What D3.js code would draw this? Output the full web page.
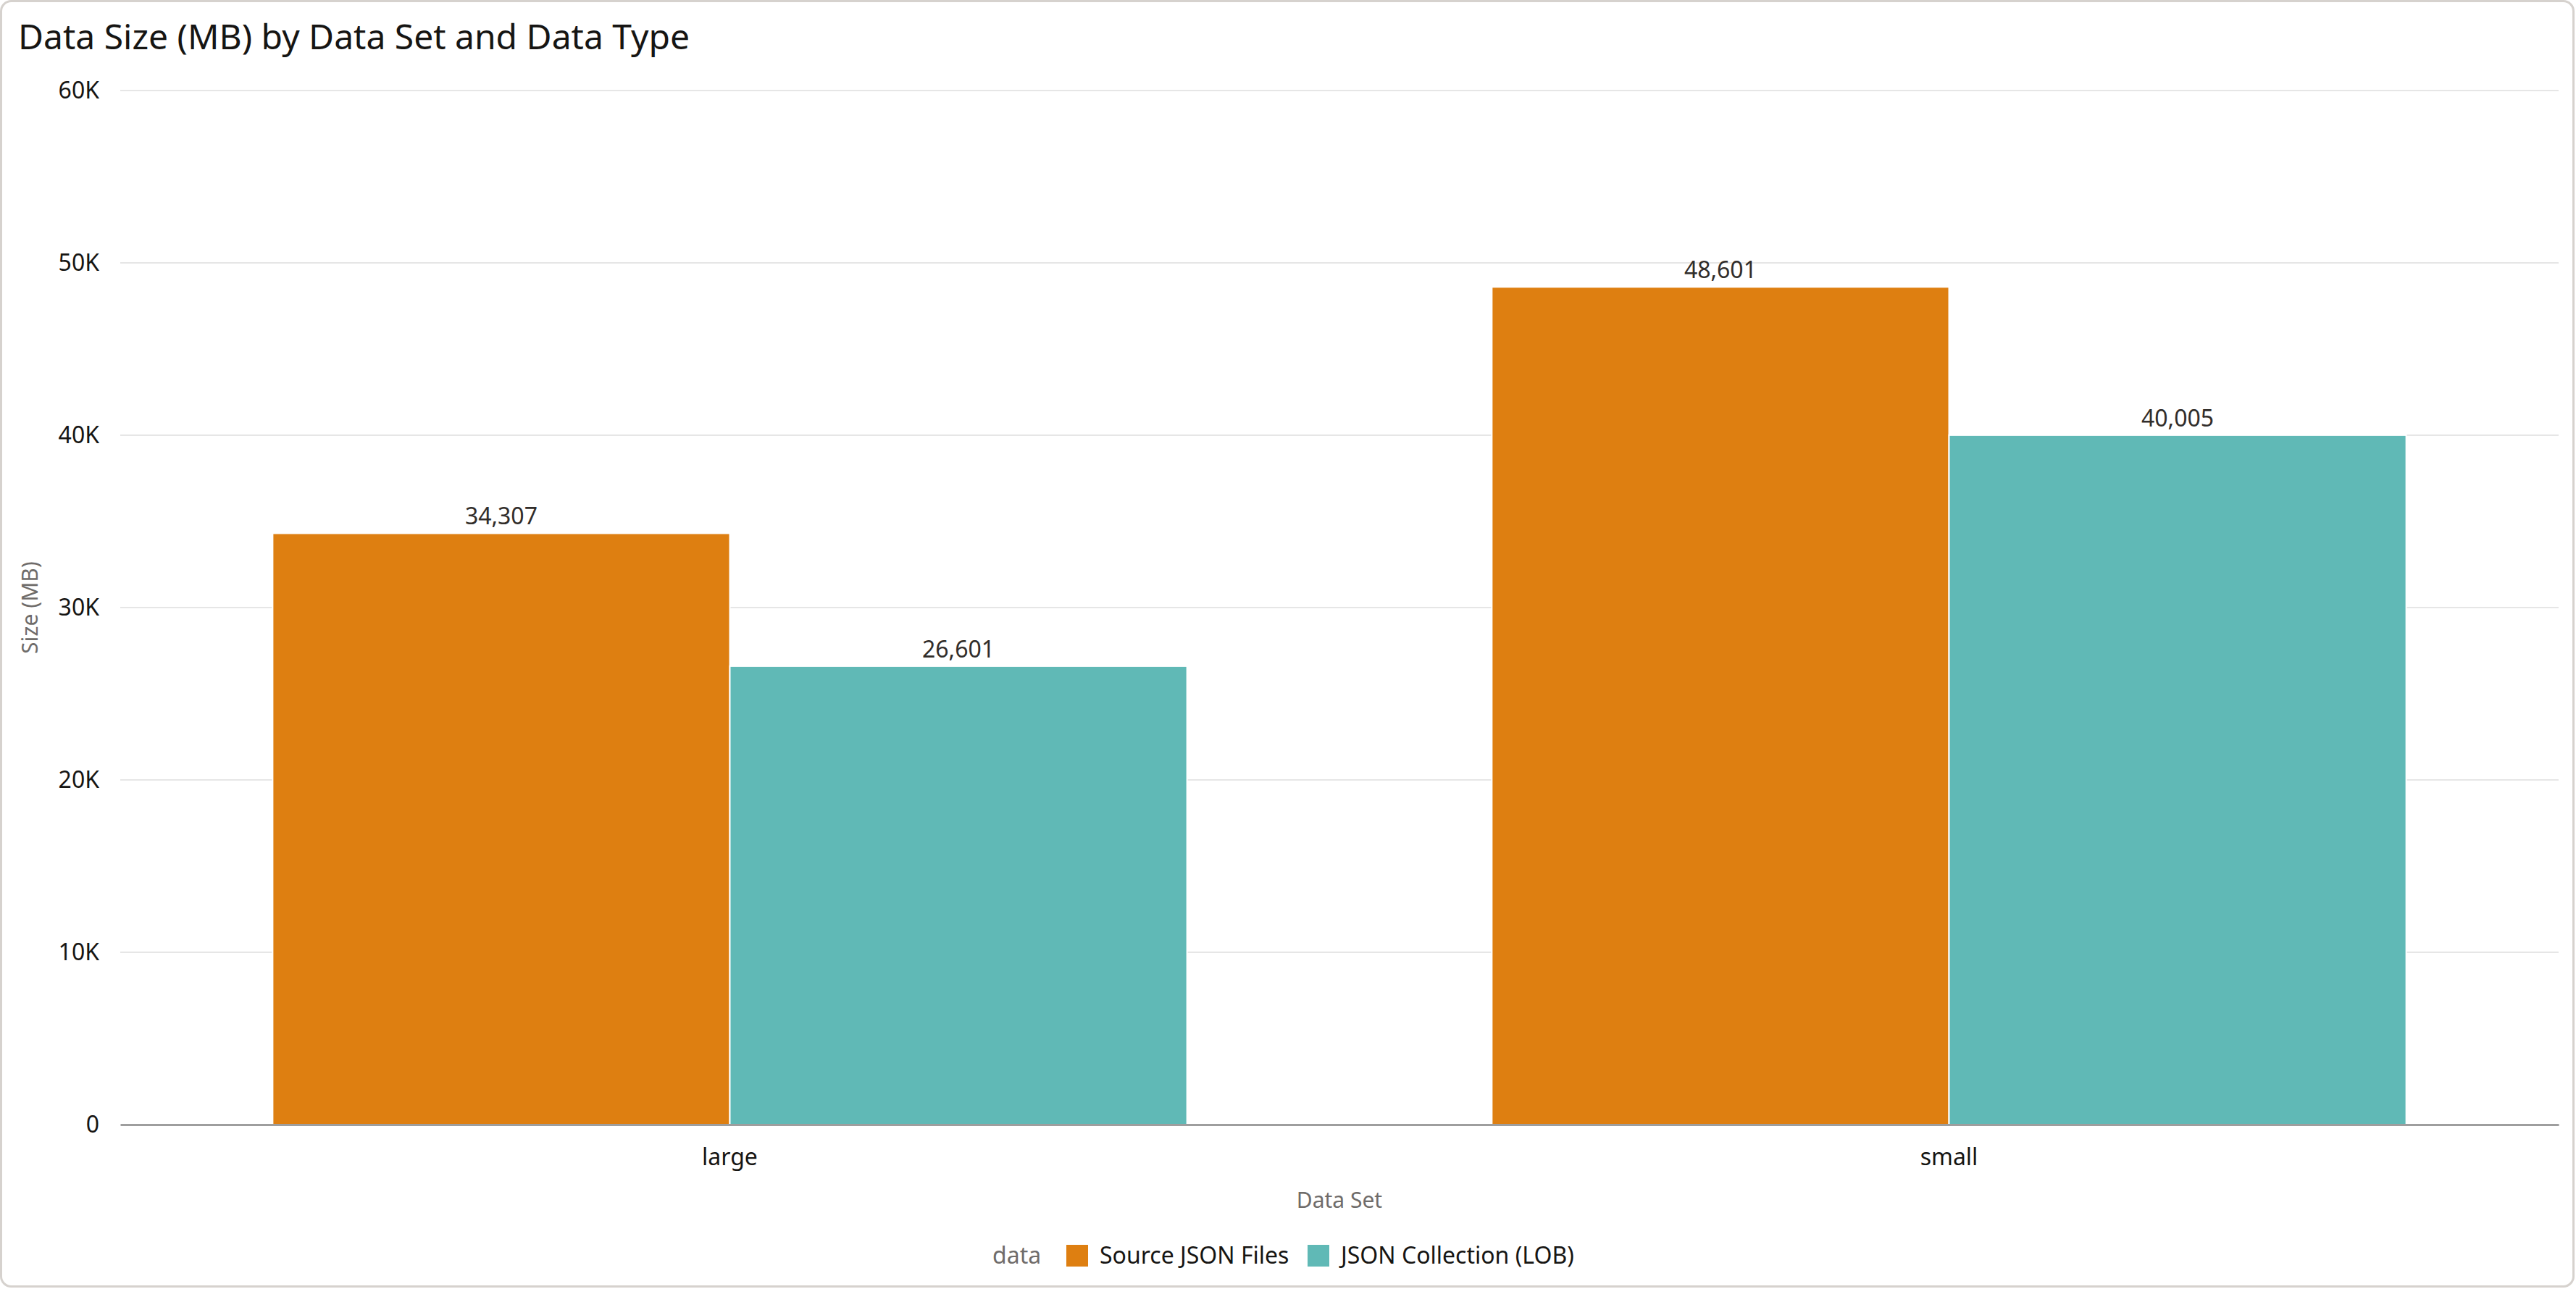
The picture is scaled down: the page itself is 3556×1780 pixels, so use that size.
<!DOCTYPE html>
<html lang="en">
<head>
<meta charset="UTF-8">
<title>Data Size (MB) by Data Set and Data Type</title>
<script src="https://d3js.org/d3.v7.min.js"></script>
<style>
  html, body { margin: 0; padding: 0; background: #fff; }
  body { font-family: "Noto Sans", sans-serif; }
</style>
</head>
<body>
<div id="chart"></div>
<script>
// data
var dataSets = ["large", "small"];
var dataTypes = ["Source JSON Files", "JSON Collection (LOB)"];
var sourceJson = [34307, 48601];
var jsonCollection = [26601, 40005];
var yTicks = [0, 10000, 20000, 30000, 40000, 50000, 60000];

var colors = ["#de7f11", "#60b9b6"];

var W = 3556, H = 1780;
var margin = {top: 125, right: 24, bottom: 227, left: 166};

var svg = d3.select("#chart").append("svg")
    .attr("width", W)
    .attr("height", H);

// card
svg.append("rect")
    .attr("x", 1.5).attr("y", 1.5)
    .attr("width", W - 5).attr("height", H - 5)
    .attr("rx", 14)
    .attr("fill", "#fff")
    .attr("stroke", "#d6d2ce")
    .attr("stroke-width", 3);

svg.append("text")
    .attr("x", 25).attr("y", 68)
    .attr("font-size", 48)
    .attr("fill", "#161513")
    .text("Data Size (MB) by Data Set and Data Type");

var x0 = d3.scaleBand()
    .domain(dataSets)
    .range([margin.left, W - margin.right])
    .paddingInner(0.25)
    .paddingOuter(0.125);

var x1 = d3.scaleBand()
    .domain(dataTypes)
    .range([0, x0.bandwidth()]);

var y = d3.scaleLinear()
    .domain([0, 60000])
    .range([H - margin.bottom, margin.top]);

// grid
svg.append("g")
    .selectAll("line")
    .data(yTicks.slice(1))
    .enter().append("line")
    .attr("x1", margin.left).attr("x2", W - margin.right)
    .attr("y1", function(d) { return y(d); })
    .attr("y2", function(d) { return y(d); })
    .attr("stroke", "#e6e6e6")
    .attr("stroke-width", 2);

// y axis labels
var yAxis = d3.axisLeft(y)
    .tickValues(yTicks)
    .tickSize(0)
    .tickPadding(29)
    .tickFormat(function(d) { return d === 0 ? "0" : (d / 1000) + "K"; });

var gy = svg.append("g")
    .attr("transform", "translate(" + margin.left + ",0)")
    .call(yAxis);
gy.select(".domain").remove();
gy.selectAll("text")
    .attr("font-family", "Noto Sans")
    .attr("font-size", 32)
    .attr("fill", "#161513");

svg.append("text")
    .attr("transform", "translate(52," + ((margin.top + H - margin.bottom) / 2) + ") rotate(-90)")
    .attr("text-anchor", "middle")
    .attr("font-size", 30)
    .attr("fill", "#6f6c6a")
    .text("Size (MB)");

// bars
var rows = [];
dataSets.forEach(function(ds, i) {
    rows.push({set: ds, type: dataTypes[0], value: sourceJson[i], c: colors[0]});
    rows.push({set: ds, type: dataTypes[1], value: jsonCollection[i], c: colors[1]});
});

svg.append("g")
    .selectAll("rect")
    .data(rows)
    .enter().append("rect")
    .attr("x", function(d) { return x0(d.set) + x1(d.type); })
    .attr("y", function(d) { return y(d.value); })
    .attr("width", x1.bandwidth())
    .attr("height", function(d) { return y(0) - y(d.value); })
    .attr("fill", function(d) { return d.c; })
    .attr("stroke", "#fff")
    .attr("stroke-width", 2);

svg.append("g")
    .selectAll("text")
    .data(rows)
    .enter().append("text")
    .attr("x", function(d) { return x0(d.set) + x1(d.type) + x1.bandwidth() / 2; })
    .attr("y", function(d) { return y(d.value) - 12; })
    .attr("text-anchor", "middle")
    .attr("font-size", 32)
    .attr("fill", "#312d2a")
    .text(function(d) { return d3.format(",")(d.value); });

// x axis
var xAxis = d3.axisBottom(x0).tickSize(0).tickPadding(33);
var gx = svg.append("g")
    .attr("transform", "translate(0," + y(0) + ")")
    .call(xAxis);
gx.select(".domain")
    .attr("stroke", "#9e9e9e")
    .attr("stroke-width", 3);
gx.selectAll("text")
    .attr("font-family", "Noto Sans")
    .attr("font-size", 32)
    .attr("fill", "#161513");

svg.append("text")
    .attr("x", (margin.left + W - margin.right) / 2)
    .attr("y", 1668)
    .attr("text-anchor", "middle")
    .attr("font-size", 30)
    .attr("fill", "#6f6c6a")
    .text("Data Set");

// legend
var lg = svg.append("g").attr("transform", "translate(1370,1734)");
lg.append("text")
    .attr("x", 0).attr("dy", "0.35em")
    .attr("font-size", 32)
    .attr("fill", "#6f6c6a")
    .text("data");
var legendX = [102, 435];
dataTypes.forEach(function(t, i) {
    lg.append("rect")
        .attr("x", legendX[i]).attr("y", -15)
        .attr("width", 30).attr("height", 30)
        .attr("fill", colors[i]);
    lg.append("text")
        .attr("x", legendX[i] + 46).attr("dy", "0.35em")
        .attr("font-size", 32)
        .attr("fill", "#161513")
        .text(t);
});
</script>
</body>
</html>
